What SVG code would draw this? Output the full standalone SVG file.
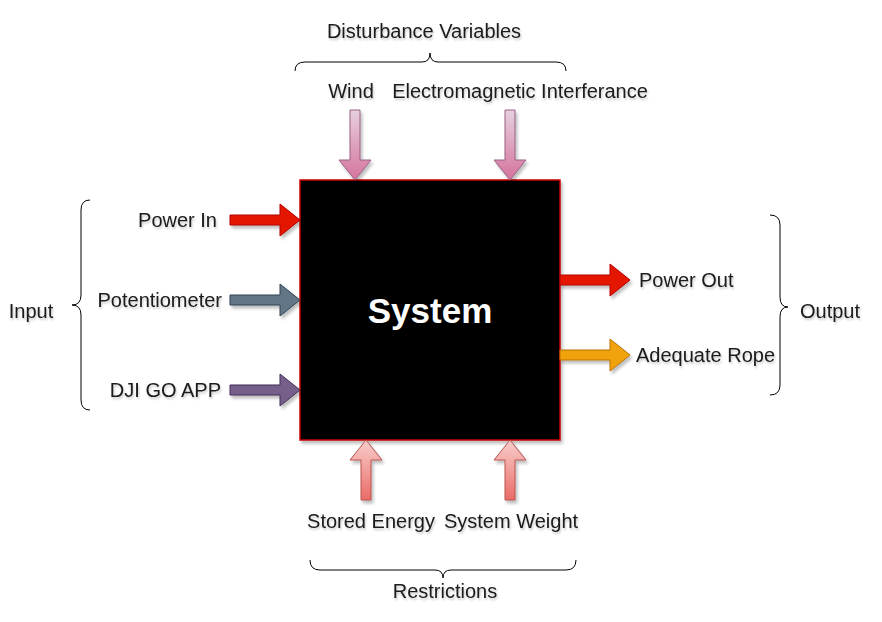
<svg xmlns="http://www.w3.org/2000/svg" width="882" height="622" viewBox="0 0 882 622">
<defs>
<filter id="sh" x="-20%" y="-20%" width="140%" height="140%">
<feDropShadow dx="2" dy="3" stdDeviation="1.5" flood-color="#000" flood-opacity="0.25"/>
</filter>
<filter id="tsh" x="-10%" y="-30%" width="120%" height="160%">
<feDropShadow dx="1" dy="2" stdDeviation="1.2" flood-color="#000" flood-opacity="0.22"/>
</filter>
<linearGradient id="gPink" x1="0" y1="0" x2="0" y2="1">
<stop offset="0" stop-color="#e6d0de"/>
<stop offset="1" stop-color="#d5739d"/>
</linearGradient>
<linearGradient id="gRed" x1="0" y1="0" x2="0" y2="1">
<stop offset="0" stop-color="#f8cecc"/>
<stop offset="1" stop-color="#ea6b66"/>
</linearGradient>
</defs>
<style>
text{font-family:"Liberation Sans",Arial,sans-serif;font-size:20px;fill:#1a1a1a;filter:url(#tsh)}
.arr{filter:url(#sh);stroke-width:1}
.brace{fill:none;stroke:#000;stroke-width:1}
</style>

<g id="system">
<rect x="300" y="180" width="260" height="260" fill="#000" stroke="#cc0000" stroke-width="1.5" filter="url(#sh)"/>
<text x="430" y="323" text-anchor="middle" style="font-size:35px;font-weight:bold;fill:#fff;filter:none">System</text>
</g>

<g id="connectors">
<polygon class="arr" points="230,215 280,215 280,204 300,220 280,236 280,225 230,225" fill="#e51400" stroke="#b20000"/>
<polygon class="arr" points="230,295 280,295 280,284 300,300 280,316 280,305 230,305" fill="#647687" stroke="#314354"/>
<polygon class="arr" points="230,385 280,385 280,374 300,390 280,406 280,395 230,395" fill="#76608a" stroke="#432d57"/>
<polygon class="arr" points="560,275 610,275 610,264 630,280 610,296 610,285 560,285" fill="#e51400" stroke="#b20000"/>
<polygon class="arr" points="560,350 610,350 610,339 630,355 610,371 610,360 560,360" fill="#f0a30a" stroke="#bd7000"/>
<polygon class="arr" points="350,110 360,110 360,160 371,160 355,180 339,160 350,160" fill="url(#gPink)" stroke="#996185"/>
<polygon class="arr" points="505,110 515,110 515,160 526,160 510,180 494,160 505,160" fill="url(#gPink)" stroke="#996185"/>
<polygon class="arr" points="361,500 371,500 371,460 382,460 366,440 350,460 361,460" fill="url(#gRed)" stroke="#b85450"/>
<polygon class="arr" points="505,500 515,500 515,460 526,460 510,440 494,460 505,460" fill="url(#gRed)" stroke="#b85450"/>
</g>

<g id="input-labels">
<text x="217" y="227" text-anchor="end">Power In</text>
<text x="222" y="307" text-anchor="end">Potentiometer</text>
<text x="221" y="397" text-anchor="end">DJI GO APP</text>
</g>

<g id="output-labels">
<text x="639" y="287">Power Out</text>
<text x="636" y="362">Adequate Rope</text>
</g>

<g id="disturbance-labels">
<text x="351" y="98" text-anchor="middle">Wind</text>
<text x="520" y="98" text-anchor="middle">Electromagnetic Interferance</text>
</g>

<g id="restriction-labels">
<text x="371" y="528" text-anchor="middle">Stored Energy</text>
<text x="511" y="528" text-anchor="middle">System Weight</text>
</g>

<g id="input-brace">
<path class="brace" d="M90,200 Q81,200 81,210 L81,295 Q81,305 72,305 Q81,305 81,315 L81,400 Q81,410 90,410"/>
<text x="31" y="318" text-anchor="middle">Input</text>
</g>

<g id="output-brace">
<path class="brace" d="M770,215 Q780,215 780,225 L780,297 Q780,307 788,307 Q780,307 780,317 L780,385 Q780,395 770,395"/>
<text x="830" y="318" text-anchor="middle">Output</text>
</g>

<g id="disturbance-brace">
<path class="brace" d="M295,71 Q295,62 305,62 L422,62 Q430,62 430,53 Q430,62 438,62 L556,62 Q566,62 566,71"/>
<text x="424" y="38" text-anchor="middle">Disturbance Variables</text>
</g>

<g id="restriction-brace">
<path class="brace" d="M310,560 Q310,570 320,570 L435,570 Q443,570 443,578 Q443,570 451,570 L566,570 Q576,570 576,560"/>
<text x="445" y="598" text-anchor="middle">Restrictions</text>
</g>
</svg>
